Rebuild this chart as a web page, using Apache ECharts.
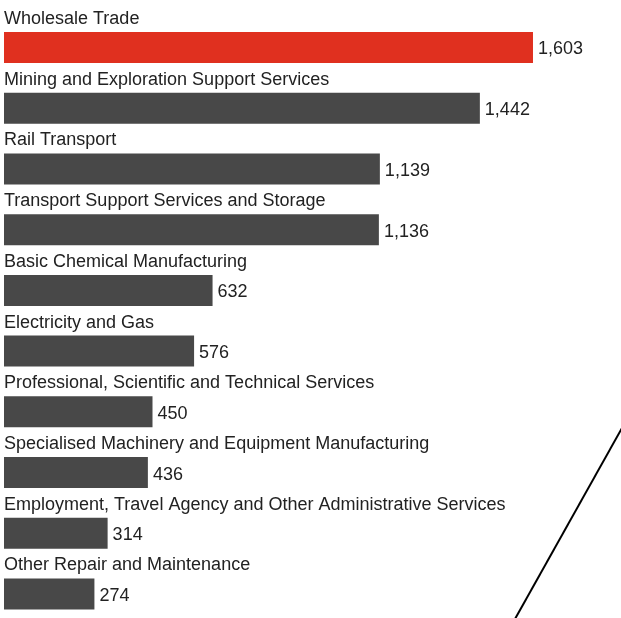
<!DOCTYPE html>
<html>
<head>
<meta charset="utf-8">
<script src="https://cdn.jsdelivr.net/npm/echarts@6/dist/echarts.min.js"></script>
<style>
  html, body { margin: 0; padding: 0; background: #fff; }
  #chart { width: 621px; height: 618px; }
</style>
</head>
<body>
<div id="chart"></div>
<script>
// Industries, ordered top to bottom
const industries = [
  'Wholesale Trade',
  'Mining and Exploration Support Services',
  'Rail Transport',
  'Transport Support Services and Storage',
  'Basic Chemical Manufacturing',
  'Electricity and Gas',
  'Professional, Scientific and Technical Services',
  'Specialised Machinery and Equipment Manufacturing',
  'Employment, Travel Agency and Other Administrative Services',
  'Other Repair and Maintenance'
];
const values = [1603, 1442, 1139, 1136, 632, 576, 450, 436, 314, 274];
const highlighted = 'Wholesale Trade';

const RED = '#e0301f';
const GREY = '#484848';
const FONT = 'Liberation Sans';

const chart = echarts.init(document.getElementById('chart'), null, { renderer: 'canvas' });

chart.setOption({
  animation: false,
  backgroundColor: '#fff',
  // rows are placed edge-to-edge: first bar centre at the top, last at the bottom
  grid: { left: 4, top: 47.5, width: 594, height: 546.5, containLabel: false },
  xAxis: { type: 'value', min: 0, max: 1800, show: false },
  yAxis: {
    type: 'category',
    inverse: true,
    boundaryGap: false,
    data: industries,
    show: false
  },
  series: [
    {
      // value bars
      type: 'bar',
      barWidth: 31,
      z: 2,
      data: values.map((v, i) => ({
        value: v,
        itemStyle: { color: industries[i] === highlighted ? RED : GREY }
      })),
      label: {
        show: true,
        position: 'right',
        distance: 5,
        offset: [0, 2],
        color: '#222',
        fontFamily: FONT,
        fontSize: 18,
        formatter: p => p.value.toLocaleString('en-US')
      }
    },
    {
      // industry names sitting above each bar
      type: 'bar',
      barWidth: 31,
      barGap: '-100%',
      z: 1,
      silent: true,
      itemStyle: { color: 'rgba(0,0,0,0)' },
      data: values,
      label: {
        show: true,
        position: [0, -13],
        align: 'left',
        verticalAlign: 'middle',
        color: '#222',
        fontFamily: FONT,
        fontSize: 18,
        formatter: p => p.name
      }
    }
  ],
  graphic: [{
    type: 'line',
    shape: { x1: 515, y1: 619, x2: 622, y2: 428 },
    style: { stroke: '#000', lineWidth: 2 }
  }]
});
</script>
</body>
</html>
